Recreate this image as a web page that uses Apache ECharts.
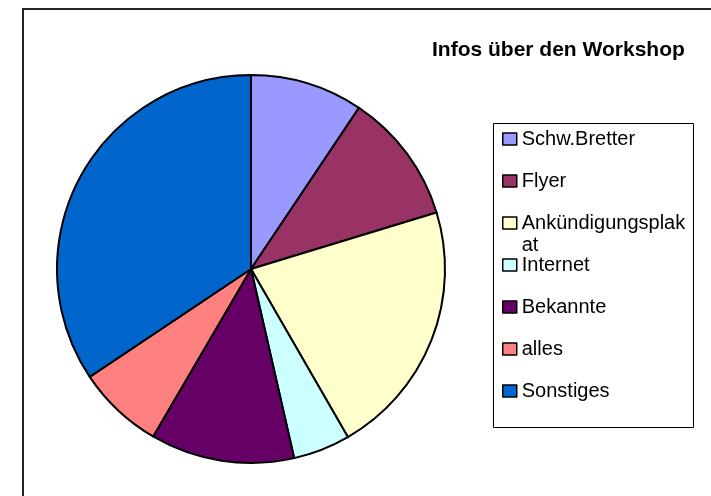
<!DOCTYPE html>
<html>
<head>
<meta charset="utf-8">
<script src="https://cdn.jsdelivr.net/npm/echarts@6/dist/echarts.min.js"></script>
<style>
html,body{margin:0;padding:0;background:#fff;}
#chart{width:711px;height:496px;}
</style>
</head>
<body>
<div id="chart"></div>
<script>
// Kategorien und Anteile (in Prozent, aus dem Bild geschaetzt)
var kategorien = ['Schw.Bretter', 'Flyer', 'Ankündigungsplakat', 'Internet', 'Bekannte', 'alles', 'Sonstiges'];
var anteile = [9.4, 10.9, 21.4, 4.75, 12.0, 7.2, 34.4];
var farben = ['#9999FF', '#993366', '#FFFFCC', '#CCFFFF', '#660066', '#FF8080', '#0066CC'];

var werte = [];
for (var i = 0; i < kategorien.length; i++) {
	werte.push({value: anteile[i], name: kategorien[i], itemStyle: {color: farben[i]}});
}

var legendeText = {fontFamily: 'Liberation Sans, Arial', fontSize: 20, color: '#000', lineHeight: 22};
// wie im Original: Zeilenumbruch im langen Namen, erste Zeile auf Hoehe des Symbols
// (leere Zeile davor, damit die mittlere Zeile neben dem Kaestchen steht)
function langerName(name) {
	return '\u00a0\nAnkündigungsplak\nat';
}

function legende(daten, oben, extra) {
	var l = {
		orient: 'vertical', left: 502, top: oben, padding: 0,
		itemWidth: 14, itemHeight: 12, itemGap: 20, icon: 'rect',
		itemStyle: {borderColor: '#000', borderWidth: 1.5},
		data: daten,
		textStyle: legendeText,
		selectedMode: false
	};
	if (extra) l.formatter = extra;
	return l;
}

var myChart = echarts.init(document.getElementById('chart'));
var option = {
	animation: false,
	backgroundColor: '#fff',
	title: {
		text: 'Infos über den Workshop',
		left: 432,
		top: 40,
		padding: 0,
		textStyle: {fontFamily: 'Liberation Sans, Arial', fontSize: 21, fontWeight: 'bold', color: '#000'}
	},
	graphic: [
		{type: 'rect', shape: {x: 23, y: 9, width: 800, height: 600}, style: {fill: 'none', stroke: '#222', lineWidth: 2}, silent: true},
		{type: 'rect', shape: {x: 493.5, y: 123.5, width: 200, height: 304}, style: {fill: 'none', stroke: '#000', lineWidth: 1}, silent: true}
	],
	legend: [
		legende(kategorien.slice(0, 2), 128),
		legende(kategorien.slice(2, 3), 190, langerName),
		legende(kategorien.slice(3), 254)
	],
	series: [
		{
			name: 'Infos',
			type: 'pie',
			center: [251, 269],
			radius: [0, 194],
			startAngle: 90,
			clockwise: true,
			label: {show: false},
			labelLine: {show: false},
			emphasis: {disabled: true},
			itemStyle: {borderColor: '#000', borderWidth: 2},
			data: werte
		}
	]
};
myChart.setOption(option);
</script>
</body>
</html>
